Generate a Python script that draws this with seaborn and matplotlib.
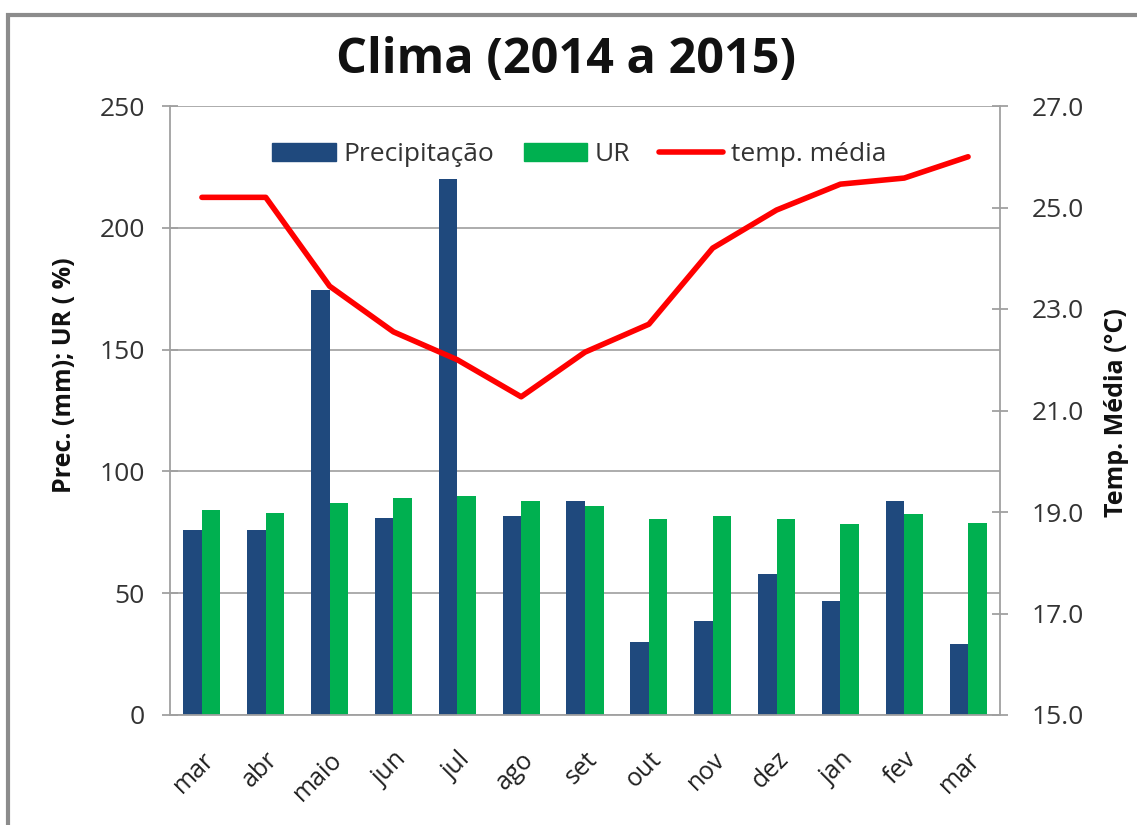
import matplotlib
matplotlib.use("Agg")
import matplotlib.pyplot as plt
import seaborn as sns
import pandas as pd
import numpy as np
from matplotlib.patches import Rectangle
from matplotlib.lines import Line2D

months = ["mar", "abr", "maio", "jun", "jul", "ago", "set", "out", "nov", "dez", "jan", "fev", "mar"]
precipitacao = [76, 76, 174.5, 81, 220, 81.5, 88, 30, 38.5, 58, 47, 88, 29]
ur = [84, 83, 87, 89, 90, 88, 86, 80.5, 81.5, 80.5, 78.5, 82.5, 79]
temp_media = [25.2, 25.2, 23.45, 22.55, 22.0, 21.27, 22.15, 22.7, 24.2, 24.95, 25.46, 25.58, 26.0]

sns.set_style("white")
plt.rcParams["font.family"] = ["Open Sans", "DejaVu Sans"]

idx = list(range(len(months)))
df = pd.DataFrame({
    "idx": idx * 2,
    "valor": precipitacao + ur,
    "serie": ["Precipitação"] * len(months) + ["UR"] * len(months),
})

fig = plt.figure(figsize=(11.37, 8.25), dpi=100)
ax = fig.add_axes([170 / 1137, 1 - 715 / 825, 830 / 1137, 609 / 825])

blue = "#1F497D"
green = "#00B050"
axis_grey = "#A0A0A0"
sns.barplot(data=df, x="idx", y="valor", hue="serie", palette=[blue, green],
            width=0.58, ax=ax, legend=False, edgecolor="none", saturation=1)

ax.set_xlim(-0.5, len(months) - 0.5)
ax.set_ylim(0, 250)
ax.set_yticks([0, 50, 100, 150, 200, 250])
ax.yaxis.grid(True, color="#A6A6A6", lw=1.3)
ax.set_axisbelow(True)
ax.set_xticks(idx)
ax.set_xticklabels(months, rotation=45, ha="right", rotation_mode="anchor", fontsize=18, color="#222222")
ax.tick_params(axis="x", length=0, pad=23)
ax.set_xticks(np.arange(-0.5, len(months), 1), minor=True)
ax.tick_params(axis="x", which="minor", length=10, width=1.3, color=axis_grey, direction="out")
ax.tick_params(axis="y", length=12, width=1.3, color=axis_grey, direction="inout", labelsize=19,
               labelcolor="#333333", pad=12)
for side in ["top", "right"]:
    ax.spines[side].set_visible(False)
for side in ["left", "bottom"]:
    ax.spines[side].set_color(axis_grey)
    ax.spines[side].set_linewidth(1.3)
ax.set_xlabel("")
ax.set_ylabel("Prec. (mm); UR ( %)", fontsize=18, fontweight="bold", color="#111111")
ax.yaxis.set_label_coords(-0.112, 0.558)

ax2 = ax.twinx()
sns.lineplot(x=idx, y=temp_media, ax=ax2, color="#FF0000", lw=4)
temp_ticks = [15, 17, 19, 21, 23, 25, 27]
ax2.set_ylim(15, 27)
ax2.set_yticks(temp_ticks)
ax2.set_yticklabels([f"{v:.1f}" for v in temp_ticks])
ax2.tick_params(axis="y", length=12, width=1.3, color=axis_grey, direction="inout", labelsize=19,
                labelcolor="#333333", pad=17)
for side in ["top", "left", "bottom"]:
    ax2.spines[side].set_visible(False)
ax2.spines["right"].set_color(axis_grey)
ax2.spines["right"].set_linewidth(1.3)
ax2.set_ylabel("Temp. Média (°C)", fontsize=18, fontweight="bold", color="#111111")
ax2.yaxis.set_label_coords(1.125, 0.497)

handles = [Rectangle((0, 0), 1, 1, color=blue), Rectangle((0, 0), 1, 1, color=green),
           Line2D([0], [0], color="#FF0000", lw=4)]
ax2.legend(handles, ["Precipitação", "UR", "temp. média"], ncol=3, frameon=False,
           loc="center", bbox_to_anchor=(0.493, 0.92), fontsize=19, handlelength=2.4,
           handleheight=0.65, columnspacing=1.1, handletextpad=0.3, labelcolor="#333333")

fig.text(566 / 1137, 1 - 61 / 825, "Clima (2014 a 2015)", ha="center", va="center", fontsize=35,
         fontweight="bold", color="#111111")

fig.patches.append(Rectangle((8 / 1137, -0.05), 1.1, 1 - 15 / 825 + 0.05, transform=fig.transFigure,
                             fill=False, edgecolor="#8C8C8C", lw=3))

fig.savefig("out.png", dpi=100)
